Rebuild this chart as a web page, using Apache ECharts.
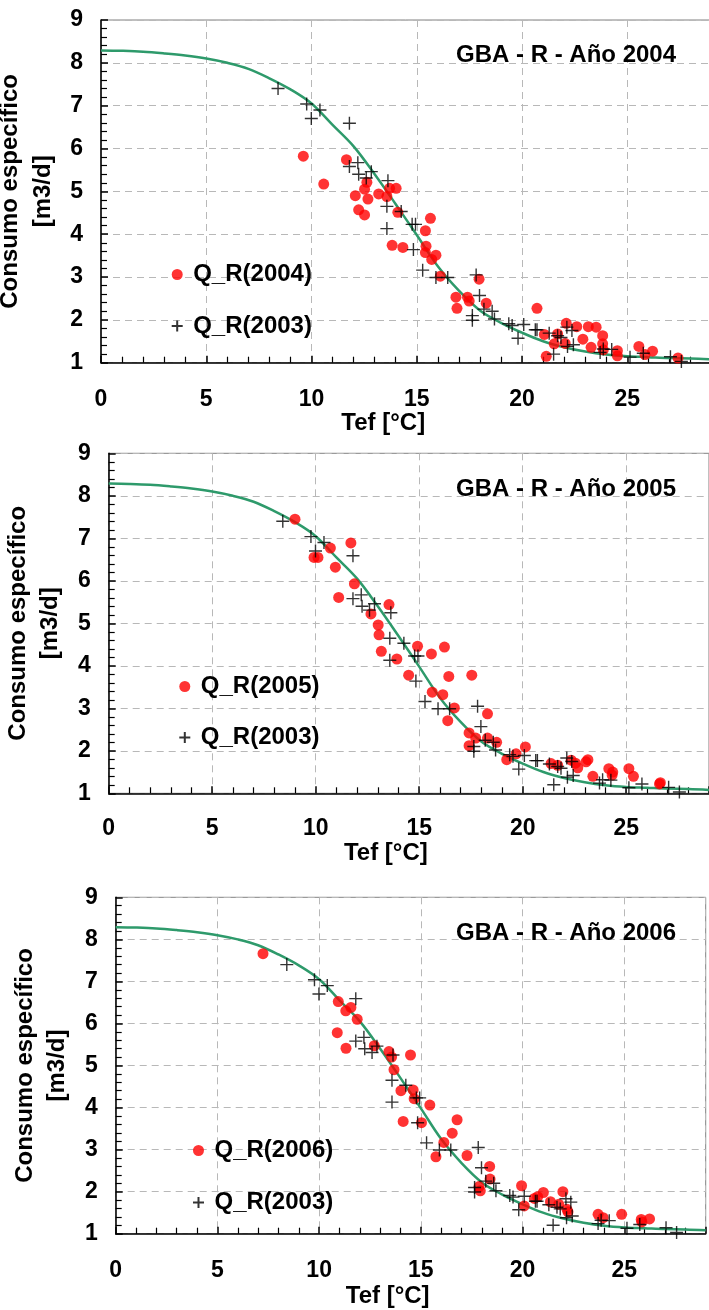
<!DOCTYPE html>
<html><head><meta charset="utf-8">
<script src="https://cdn.jsdelivr.net/npm/echarts@6/dist/echarts.min.js"></script>
<style>html,body{margin:0;padding:0;background:#fff}#wrap{position:relative;width:709px;height:1310px}.p{position:absolute;left:0;top:0;width:709px;height:1310px}</style>
</head><body><div id="wrap"><div class="p" id="p0"></div><div class="p" id="p1"></div><div class="p" id="p2"></div></div>
<script>
// ---------- DATA ----------
const tef2003 = [8.41,9.77,9.99,10.40,11.80,11.80,12.20,12.24,12.60,12.84,13.63,13.58,14.26,13.58,14.78,14.94,14.84,15.28,15.91,16.47,17.82,17.98,17.64,17.64,18.19,18.58,18.69,19.37,19.53,20.08,19.81,20.63,20.71,21.29,21.69,21.85,22.13,22.37,22.16,22.44,21.50,23.71,23.86,24.26,25.13,25.76,27.05,27.57];
const q2003   = [7.40,7.04,6.70,6.90,6.59,5.58,5.67,5.40,5.31,5.46,5.25,4.65,4.53,4.13,4.23,4.23,3.64,3.16,2.99,2.99,3.05,2.57,2.10,1.99,2.25,2.20,2.02,1.91,1.87,1.89,1.57,1.77,1.77,1.69,1.63,1.59,1.83,1.75,1.38,1.42,1.20,1.24,1.32,1.31,1.13,1.22,1.14,1.03];

const tef2004 = [9.61,10.58,11.66,12.63,12.52,12.08,12.68,12.24,12.52,13.19,13.58,13.71,14.02,14.10,13.83,14.34,15.65,15.41,15.44,15.41,15.91,15.71,16.12,16.86,16.91,17.41,17.49,17.96,18.30,20.71,21.06,21.15,21.53,21.69,22.10,22.05,22.60,23.15,23.52,22.89,23.28,23.83,23.83,23.86,24.53,24.53,25.55,25.84,26.20,27.41];
const q2004   = [5.82,5.17,5.74,5.21,5.05,4.90,4.82,4.57,4.45,4.94,4.88,5.07,5.07,4.51,3.74,3.69,4.37,4.08,3.72,3.57,3.51,3.41,3.02,2.53,2.27,2.53,2.44,2.95,2.39,2.27,1.66,1.15,1.44,1.67,1.92,1.45,1.84,1.84,1.83,1.55,1.36,1.63,1.44,1.30,1.28,1.16,1.38,1.19,1.27,1.11];

const tef2005 = [9.00,10.71,9.92,10.11,11.70,10.95,11.87,11.11,13.54,12.67,13.02,13.06,13.17,13.92,14.92,15.59,16.22,14.49,16.43,17.54,15.63,16.14,16.70,16.38,17.41,17.41,17.73,18.30,18.30,18.74,19.23,19.68,20.13,21.37,21.69,22.34,22.55,22.66,23.06,23.15,23.39,24.16,24.35,24.32,25.13,25.35,26.61,26.65];
const q2005   = [7.45,6.77,6.55,6.55,6.89,6.32,5.93,5.61,5.44,5.22,4.96,4.73,4.34,4.16,4.46,4.28,4.44,3.78,3.75,3.78,3.38,3.32,3.01,2.71,2.42,2.12,2.30,2.87,2.30,2.20,1.79,1.93,2.09,1.70,1.66,1.78,1.71,1.60,1.74,1.79,1.40,1.58,1.50,1.43,1.58,1.40,1.22,1.25];

const tef2006 = [7.24,10.94,11.31,11.56,11.87,10.89,11.32,12.71,13.43,13.56,14.49,13.68,14.02,14.62,14.67,15.44,14.13,15.03,16.78,16.54,16.13,15.74,17.27,17.86,17.92,18.38,18.40,19.95,20.08,20.58,20.74,21.02,21.37,21.78,21.98,22.18,22.23,23.71,23.96,24.87,25.83,25.86,26.24];
const q2006   = [7.66,6.52,6.30,6.38,6.10,5.78,5.41,5.47,5.33,5.20,5.25,4.90,4.40,4.42,4.21,4.06,3.67,3.64,3.71,3.39,3.17,2.83,2.86,2.12,2.02,2.60,2.30,2.14,1.66,1.84,1.88,1.98,1.76,1.70,2.00,1.58,1.52,1.46,1.38,1.46,1.34,1.28,1.35];

const curveTef = [0,1,2,3,4,5,6,7,8,9,10,11,12,13,14,15,16,17,18,19,20,21,22,23,24,25,26,27,28,29];
const curveQ   = [8.29,8.28,8.26,8.22,8.17,8.10,8.00,7.86,7.64,7.38,7.05,6.55,6.05,5.40,4.70,3.98,3.25,2.68,2.22,1.93,1.70,1.50,1.36,1.26,1.19,1.15,1.13,1.11,1.10,1.08];

const years = ['2004','2005','2006'];
const yearTef = [tef2004, tef2005, tef2006];
const yearQ = [q2004, q2005, q2006];
const titleTexts = ['GBA - R - Año 2004','GBA - R - Año 2005','GBA - R - Año 2006'];
const xName = 'Tef [°C]';
const yName = 'Consumo específico\n[m3/d]';

// ---------- LAYOUT ----------
const FONT = '"Liberation Sans", Arial, sans-serif';
const panels = [
  {left:101,   top:20,    width:610.5, height:342.7, legL:170.7, legT:262.5, legGap:27.5, titleL:456, titleT:43,  xGap:45, xMargin:25, yGap:19},
  {left:108.7, top:453.3, width:600.3, height:340,   legL:178.3, legT:674.5, legGap:27,   titleL:456, titleT:477, xGap:48, xMargin:24, yGap:20},
  {left:115.7, top:897.3, width:590,   height:336.4, legL:192,   legT:1138.5, legGap:28,  titleL:456, titleT:921, xGap:51, xMargin:25, yGap:21}
];

const pairs = (xs, ys) => xs.map((x, i) => [x, ys[i]]);
const crossPath = 'path://M0,6L12,6M6,0L6,12';
const txt = (size) => ({fontSize:size, fontWeight:'bold', fontFamily:FONT, color:'#000'});

panels.forEach((p, i) => {
  const option = {
    animation:false,
    backgroundColor:'transparent',
    grid:[{left:p.left, top:p.top, width:p.width, height:p.height, show:true, outerBoundsMode:'none',
      borderColor:'#808080', borderWidth:1, backgroundColor:'transparent'}],
    xAxis:[{type:'value', gridIndex:0, min:0, max:29, interval:5, position:'bottom',
      axisLine:{show:true, onZero:false, lineStyle:{color:'#000', width:1.5}},
      axisTick:{show:true, inside:true, length:7, lineStyle:{color:'#000', width:1.5}},
      minorTick:{show:true, splitNumber:5, length:6, lineStyle:{color:'#000', width:1.2}},
      axisLabel:Object.assign({margin:p.xMargin, formatter:(v) => (v % 5 === 0 ? String(v) : '')}, txt(23)),
      splitLine:{show:true, lineStyle:{color:'#b8b8b8', width:1, type:[7,5]}},
      name:xName, nameLocation:'middle', nameGap:p.xGap,
      nameTextStyle:Object.assign({padding:[0,46,0,0]}, txt(24))}],
    yAxis:[{type:'value', gridIndex:0, min:1, max:9, interval:1, position:'left',
      axisLine:{show:true, onZero:false, lineStyle:{color:'#000', width:1.5}},
      axisTick:{show:true, inside:true, length:7, lineStyle:{color:'#000', width:1.5}},
      minorTick:{show:true, splitNumber:5, length:6, lineStyle:{color:'#000', width:1.2}},
      axisLabel:Object.assign({margin:18}, txt(23)),
      splitLine:{show:true, lineStyle:{color:'#b8b8b8', width:1, type:[7,5]}},
      name:yName, nameLocation:'middle', nameGap:p.yGap,
      nameTextStyle:Object.assign({lineHeight:32.5}, txt(24))}],
    series:[
      {type:'line', name:'ajuste', data:pairs(curveTef, curveQ),
        smooth:0.35, symbol:'none', silent:true, z:2, lineStyle:{color:'#2e9a6b', width:2.5}},
      {type:'scatter', name:'Q_R(' + years[i] + ')', data:pairs(yearTef[i], yearQ[i]),
        symbol:'circle', symbolSize:11, z:3, itemStyle:{color:'#ff0000'}},
      {type:'scatter', name:'Q_R(2003)', data:pairs(tef2003, q2003),
        symbol:crossPath, symbolSize:13, symbolKeepAspect:true, z:4,
        itemStyle:{color:'rgba(0,0,0,0)', borderColor:'#000', borderWidth:1.4}}
    ],
    legend:{orient:'vertical', left:p.legL, top:p.legT, padding:0, itemGap:p.legGap,
      itemWidth:22, itemHeight:11, selectedMode:false, textStyle:txt(24),
      data:[{name:'Q_R(' + years[i] + ')', icon:'circle'}, {name:'Q_R(2003)'}]},
    title:{text:titleTexts[i], left:p.titleL, top:p.titleT, padding:0, textStyle:txt(24)}
  };
  const chart = echarts.init(document.getElementById('p' + i), null, {renderer:'canvas'});
  chart.setOption(option);
});
</script></body></html>
